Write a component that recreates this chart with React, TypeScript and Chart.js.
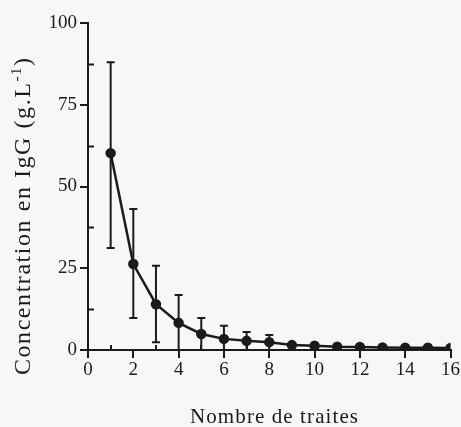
import { useEffect, useRef } from 'react';
import { Chart, registerables } from 'chart.js';

Chart.register(...registerables);

// ---- data ----
const traites = [1, 2, 3, 4, 5, 6, 7, 8, 9, 10, 11, 12, 13, 14, 15, 16];
const concentration = [60.2, 26.3, 14.0, 8.3, 4.9, 3.4, 2.8, 2.4, 1.5, 1.3, 1.0, 0.9, 0.8, 0.7, 0.7, 0.6];
const errLow: (number | null)[] = [31.2, 9.8, 2.4, 0, 0, 0, 0, 0, null, null, null, null, null, null, null, null];
const errHigh: (number | null)[] = [88, 43.1, 25.8, 16.8, 9.8, 7.4, 5.5, 4.6, null, null, null, null, null, null, null, null];
const yMajorStep = 25;
const yMinorTicks = [12.5, 37.5, 62.5, 87.5];
const xMinorTicks = [1, 3, 5, 7, 9, 11, 13, 15];
const xTitle = 'Nombre de traites';
const yTitleMain = 'Concentration en IgG (g.L';
const yTitleSup = '-1';
const yTitleEnd = ')';

const SERIF = "'Liberation Serif', 'Times New Roman', serif";
const INK = '#1b1b1b';
const BG = '#f7f7f5';

type Seg = { text: string; font: string; dy: number };

function drawSpaced(ctx: CanvasRenderingContext2D, segs: Seg[], target: number) {
  let natural = 0;
  let n = 0;
  for (const s of segs) {
    ctx.font = s.font;
    for (const ch of s.text) {
      natural += ctx.measureText(ch).width;
      n++;
    }
  }
  const ls = n > 1 ? (target - natural) / (n - 1) : 0;
  let x = -target / 2;
  ctx.textBaseline = 'alphabetic';
  ctx.textAlign = 'left';
  for (const s of segs) {
    ctx.font = s.font;
    for (const ch of s.text) {
      ctx.fillText(ch, x, s.dy);
      x += ctx.measureText(ch).width + ls;
    }
  }
}

const decorPlugin = {
  id: 'decor',
  beforeDraw(chart: any) {
    const { ctx, width, height } = chart;
    ctx.save();
    ctx.fillStyle = BG;
    ctx.fillRect(0, 0, width, height);
    ctx.restore();
  },
  beforeDatasetsDraw(chart: any) {
    const { ctx, scales } = chart;
    const xs = scales.x;
    const ys = scales.y;
    ctx.save();
    ctx.strokeStyle = INK;
    ctx.lineWidth = 2;
    for (let i = 0; i < traites.length; i++) {
      const lo = errLow[i];
      const hi = errHigh[i];
      if (lo === null || hi === null) continue;
      const px = xs.getPixelForValue(traites[i]);
      const pLo = ys.getPixelForValue(lo);
      const pHi = ys.getPixelForValue(hi);
      ctx.beginPath();
      ctx.moveTo(px, pLo);
      ctx.lineTo(px, pHi);
      ctx.moveTo(px - 4, pHi);
      ctx.lineTo(px + 4, pHi);
      if (lo > 0) {
        ctx.moveTo(px - 4, pLo);
        ctx.lineTo(px + 4, pLo);
      }
      ctx.stroke();
    }
    ctx.restore();
  },
  afterDraw(chart: any) {
    const { ctx, scales } = chart;
    const xs = scales.x;
    const ys = scales.y;
    ctx.save();
    ctx.strokeStyle = INK;
    ctx.lineWidth = 2;
    ctx.beginPath();
    for (const v of yMinorTicks) {
      const py = Math.round(ys.getPixelForValue(v)) + 0.5;
      ctx.moveTo(xs.left, py);
      ctx.lineTo(xs.left + 6, py);
    }
    for (const v of xMinorTicks) {
      const px = Math.round(xs.getPixelForValue(v));
      ctx.moveTo(px, ys.bottom);
      ctx.lineTo(px, ys.bottom - 5);
    }
    ctx.stroke();

    ctx.fillStyle = INK;
    // x title
    ctx.save();
    ctx.translate(274, 423);
    drawSpaced(ctx, [{ text: xTitle, font: `21px ${SERIF}`, dy: 0 }], 168);
    ctx.restore();
    // y title
    ctx.save();
    ctx.translate(30, 216.5);
    ctx.rotate(-Math.PI / 2);
    drawSpaced(
      ctx,
      [
        { text: yTitleMain, font: `24px ${SERIF}`, dy: 0 },
        { text: yTitleSup, font: `15px ${SERIF}`, dy: -9 },
        { text: yTitleEnd, font: `24px ${SERIF}`, dy: 0 },
      ],
      317
    );
    ctx.restore();
    ctx.restore();
  },
};

export default function App() {
  const ref = useRef<HTMLCanvasElement | null>(null);
  useEffect(() => {
    if (!ref.current) return;
    const chart = new Chart(ref.current, {
      type: 'line',
      data: {
        datasets: [
          {
            data: traites.map((t, i) => ({ x: t, y: concentration[i] })),
            borderColor: INK,
            backgroundColor: INK,
            borderWidth: 2.5,
            pointRadius: 4,
            pointBackgroundColor: INK,
            pointBorderColor: INK,
            tension: 0,
            fill: false,
          },
        ],
      },
      options: {
        animation: false,
        responsive: false,
        maintainAspectRatio: false,
        layout: { padding: { left: 0, top: 23, right: 9, bottom: 0 } },
        plugins: { legend: { display: false }, tooltip: { enabled: false }, title: { display: false } },
        scales: {
          x: {
            type: 'linear',
            min: 0,
            max: 16,
            ticks: { stepSize: 2, font: { family: SERIF, size: 19 }, color: INK, padding: 1, maxRotation: 0 },
            grid: { drawOnChartArea: false, drawTicks: true, tickLength: 8, color: INK, lineWidth: 2 },
            border: { display: true, color: INK, width: 2 },
            afterFit: (s: any) => {
              s.height = 77;
            },
          },
          y: {
            min: 0,
            max: 100,
            ticks: { stepSize: yMajorStep, font: { family: SERIF, size: 19 }, color: INK, padding: 3 },
            grid: { drawOnChartArea: false, drawTicks: true, tickLength: 8, color: INK, lineWidth: 2 },
            border: { display: true, color: INK, width: 2 },
            afterFit: (s: any) => {
              s.width = 88;
            },
          },
        },
      } as any,
      plugins: [decorPlugin],
    });
    return () => chart.destroy();
  }, []);
  return (
    <canvas
      ref={ref}
      width={461}
      height={427}
      style={{ position: 'absolute', left: 0, top: 0, width: 461, height: 427, display: 'block' }}
    />
  );
}
